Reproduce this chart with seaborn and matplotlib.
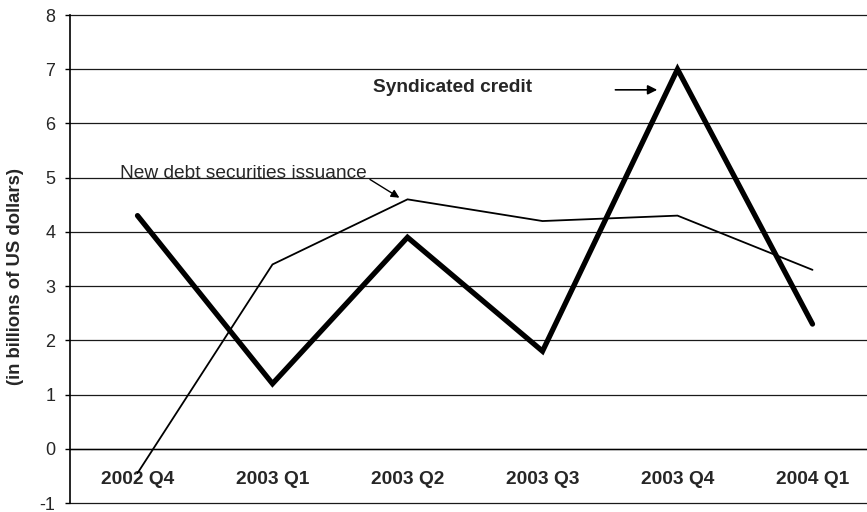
import matplotlib
matplotlib.use("Agg")
import matplotlib.pyplot as plt
import seaborn as sns
import pandas as pd

# Quarterly flows, billions of US dollars
quarters = ["2002 Q4", "2003 Q1", "2003 Q2", "2003 Q3", "2003 Q4", "2004 Q1"]
syndicated = [4.3, 1.2, 3.9, 1.8, 7.0, 2.3]
debt = [-0.45, 3.4, 4.6, 4.2, 4.3, 3.3]
y_ticks = list(range(-1, 9))

sns.set_style("white")
plt.rcParams["font.family"] = ["Liberation Sans", "DejaVu Sans"]

df_synd = pd.DataFrame({"quarter": quarters, "value": syndicated})
df_debt = pd.DataFrame({"quarter": quarters, "value": debt})

fig = plt.figure(figsize=(8.67, 5.12), dpi=100)
ax = fig.add_axes([70 / 867, 9 / 512, 810 / 867, 488 / 512])

sns.lineplot(data=df_debt, x="quarter", y="value", ax=ax, color="black",
             lw=1.3, sort=False, solid_joinstyle="miter")
sns.lineplot(data=df_synd, x="quarter", y="value", ax=ax, color="black",
             lw=3.8, sort=False, solid_joinstyle="miter")

ax.set_xlim(-0.5, 5.5)
ax.set_ylim(-1, 8)
ax.set_yticks(y_ticks)
ax.set_yticklabels([str(t) for t in y_ticks])
ax.grid(axis="y", color="#1a1a1a", lw=0.9)
ax.set_axisbelow(True)
for gl in ax.get_ygridlines():
    gl.set_clip_on(False)

# category axis sits on the zero line, labels centred on each quarter
ax.spines["bottom"].set_position(("data", 0))
ax.spines["bottom"].set_color("black")
ax.spines["bottom"].set_linewidth(1.0)
ax.spines["left"].set_color("black")
ax.spines["left"].set_linewidth(1.2)
ax.spines["top"].set_visible(False)
ax.spines["right"].set_visible(False)

ax.set_xticks([i + 0.5 for i in range(len(quarters) - 1)])
ax.set_xticklabels([])
ax.set_xticks(range(len(quarters)), minor=True)
ax.set_xticklabels(quarters, minor=True, fontsize=13.8, fontweight="bold")
ax.tick_params(axis="x", which="major", direction="inout", length=7,
               width=1.0, color="black")
ax.tick_params(axis="x", which="minor", length=0, pad=16)
ax.tick_params(axis="y", which="major", direction="out", length=3.5,
               width=1.0, color="black", labelsize=13, pad=7, left=True)

ax.set_xlabel("")
ax.set_ylabel("(in billions of US dollars)", fontsize=13.3, fontweight="bold")
ax.yaxis.set_label_coords(-0.057, 0.465)

ax.annotate("New debt securities issuance", xy=(1.94, 4.63),
            xytext=(-0.13, 5.0), textcoords="data", fontsize=13.8,
            ha="left", va="baseline",
            arrowprops=dict(arrowstyle="-|>", color="black", lw=1.0,
                            shrinkA=0, shrinkB=0, relpos=(1, 0.25),
                            mutation_scale=12))

ax.text(1.744, 6.67, "Syndicated credit", fontsize=13.8, fontweight="bold",
        ha="left", va="center")
ax.annotate("", xy=(3.85, 6.62), xytext=(3.54, 6.62), textcoords="data",
            arrowprops=dict(arrowstyle="-|>", color="black", lw=1.2,
                            shrinkA=0, shrinkB=0, mutation_scale=14))

fig.savefig("out.png", dpi=100)
